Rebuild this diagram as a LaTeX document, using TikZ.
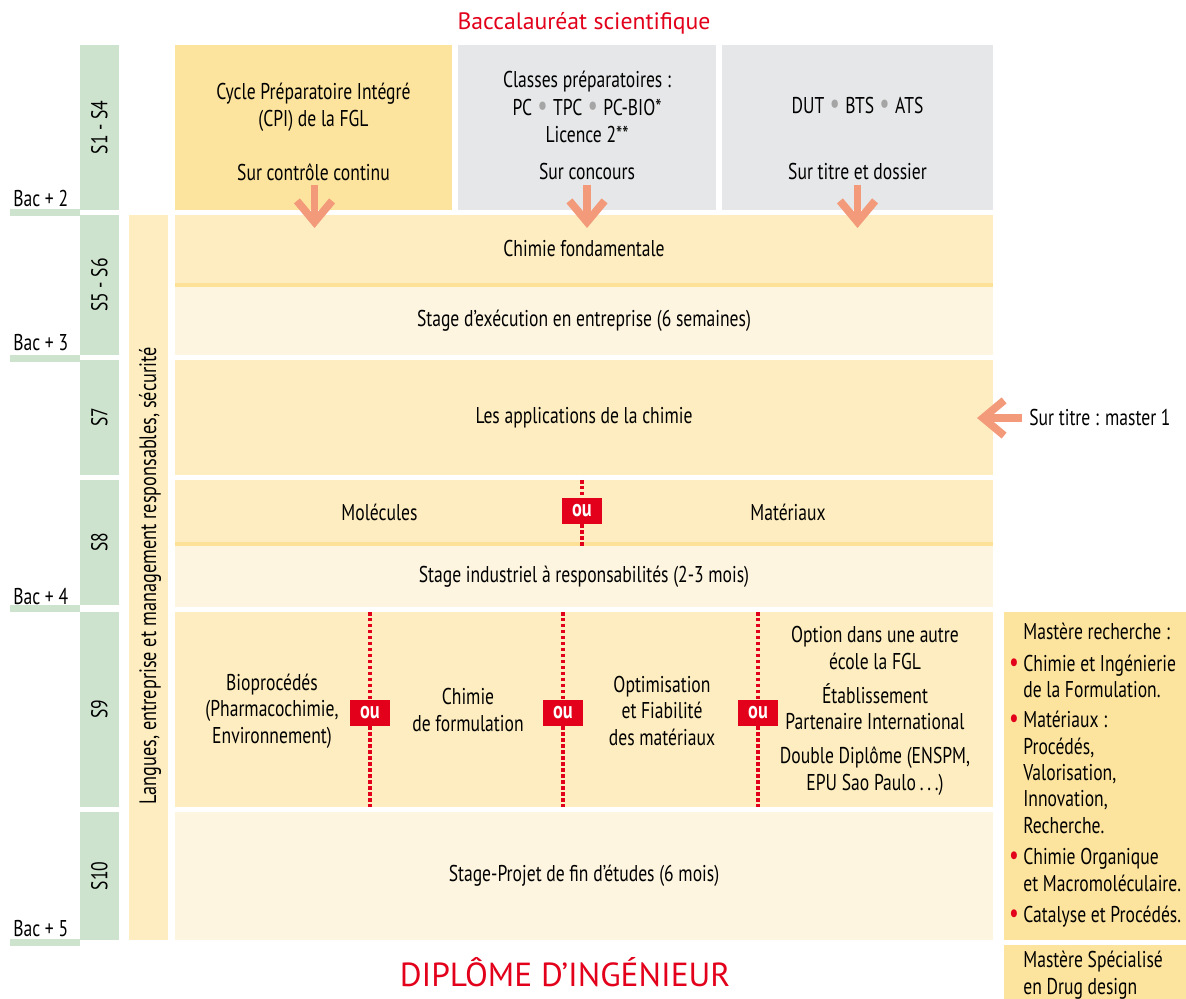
\documentclass[tikz,border=0pt]{standalone}
\usepackage{fontspec}
\setmainfont{PT Sans}[FakeStretch=0.77]
\newfontfamily\widefont{PT Sans}
\usetikzlibrary{arrows.meta}

\definecolor{rowdark}{RGB}{253,237,192}
\definecolor{rowlight}{RGB}{254,245,224}
\definecolor{cpiyellow}{RGB}{253,228,158}
\definecolor{sepline}{RGB}{253,225,150}
\definecolor{semgreen}{RGB}{205,227,205}
\definecolor{prepgray}{RGB}{230,231,232}
\definecolor{fglred}{RGB}{226,0,26}
\definecolor{salmon}{RGB}{242,154,122}
\definecolor{dotgray}{RGB}{165,165,165}

\newcommand{\gdot}{\hspace{3pt}{\color{dotgray}\fontsize{17}{15}\selectfont\textbullet}\hspace{3pt}}
\newcommand{\rdot}{\llap{{\color{fglred}\fontsize{16}{15}\selectfont\textbullet}\hspace{2.5pt}}}

\begin{document}
\begin{tikzpicture}[x=0.02cm, y=-0.02cm,
  every node/.style={inner sep=0pt, font=\fontsize{13}{15.2}\selectfont},
  box/.style={minimum width=16.36cm},
  sem/.style={fill=semgreen, rotate=90, minimum height=0.78cm},
  ou/.style={fill=fglred, text=white, font=\bfseries\fontsize{13.5}{14}\selectfont, minimum width=0.8cm, minimum height=0.52cm},
  orline/.style={fglred, line width=2pt, dash pattern=on 2pt off 1.4pt},
  entry/.style={salmon, line width=4.4pt, -{Straight Barb[length=12pt, width=20pt]}}]
\useasboundingbox (0,0) rectangle (1186,999);

% Titles:
\node[text=fglred, font=\widefont\fontsize{13.5}{16}\selectfont] (bac) at (584,23) {Baccalauréat scientifique};
\node[text=fglred, font=\widefont\fontsize{19}{20}\selectfont] (dipl) at (565,972) {DIPLÔME D’INGÉNIEUR};

% Entry boxes:
\node[fill=cpiyellow, minimum width=5.54cm, minimum height=3.30cm] (cpi) at (313.5,127.5) {};
\node[fill=prepgray, minimum width=5.16cm, minimum height=3.30cm] (prepa) at (587,127.5) {};
\node[fill=prepgray, minimum width=5.42cm, minimum height=3.30cm] (dut) at (857.5,127.5) {};
\node[align=center] (cpitxt) at (313.5,107) {Cycle Préparatoire Intégré\\(CPI) de la FGL};
\node[align=center] (prepatxt) at (587,107) {Classes préparatoires :\\[1pt] PC\gdot TPC\gdot PC-BIO*\\Licence 2**};
\node (duttxt) at (857.5,106) {DUT\gdot BTS\gdot ATS};
\node (sur1) at (313.5,172) {Sur contrôle continu};
\node (sur2) at (587,172) {Sur concours};
\node (sur3) at (857.5,172) {Sur titre et dossier};

% Semesters:
\node[sem, minimum width=3.30cm] (s1) at (99.5,127.5) {S1 - S4};
\node[sem, minimum width=2.80cm] (s5) at (99.5,285) {S5 - S6};
\node[sem, minimum width=2.30cm] (s7) at (99.5,417.5) {S7};
\node[sem, minimum width=2.50cm] (s8) at (99.5,542.5) {S8};
\node[sem, minimum width=3.90cm] (s9) at (99.5,709.5) {S9};
\node[sem, minimum width=2.56cm] (s10) at (99.5,876) {S10};
\fill[semgreen] (10,209) rectangle (80,216);
\fill[semgreen] (10,355) rectangle (80,362);
\fill[semgreen] (10,605) rectangle (80,612);
\fill[semgreen] (10,939) rectangle (80,946);
\node[anchor=west] (bac2) at (13,199) {Bac + 2};
\node[anchor=west] (bac3) at (13,343) {Bac + 3};
\node[anchor=west] (bac4) at (13,597) {Bac + 4};
\node[anchor=west] (bac5) at (13,929) {Bac + 5};

\node[fill=rowdark, rotate=90, minimum width=14.5cm, minimum height=0.78cm] (lang) at (148.5,577.5) {};
\node[rotate=90, font=\fontsize{13.5}{15}\selectfont] (langtxt) at (150,576) {Langues, entreprise et management responsables, sécurité};

% Cursus:
\node[box, fill=rowdark, minimum height=1.36cm] (fond) at (584,249) {Chimie fondamentale};
\fill[sepline] (175,283) rectangle (993,287);
\node[box, fill=rowlight, minimum height=1.36cm] (exec) at (584,321) {Stage d’exécution en entreprise (6 semaines)};
\node[box, fill=rowdark, minimum height=2.30cm] (appli) at (584,417.5) {Les applications de la chimie};
\node[box, fill=rowdark, minimum height=1.24cm] (option) at (584,511) {};
\fill[sepline] (175,542) rectangle (993,546);
\node[box, fill=rowlight, minimum height=1.22cm] (indus) at (584,576.5) {Stage industriel à responsabilités (2-3 mois)};
\node[box, fill=rowdark, minimum height=3.90cm] (spec) at (584,709.5) {};
\node[box, fill=rowlight, minimum height=2.56cm] (pfe) at (584,876) {Stage-Projet de fin d’études (6 mois)};

\node (mol) at (379.5,512) {Molécules};
\node (mat) at (788,512) {Matériaux};
\node[align=center] (bio) at (272,711) {Bioprocédés\\(Pharmacochimie,\\Environnement)};
\node[align=center] (form) at (468,710) {Chimie\\de formulation};
\node[align=center] (optim) at (662,711) {Optimisation\\et Fiabilité\\des matériaux};
\node[align=center] (autre) at (875,711) {Option dans une autre\\école la FGL\\[4pt]Établissement\\Partenaire International\\[4pt]Double Diplôme (ENSPM,\\EPU Sao Paulo\,.\,.\,.)};

% Choices:
\node[ou] (ou0) at (582,511) {ou};
\node[ou] (ou1) at (370,713) {ou};
\node[ou] (ou2) at (563,713) {ou};
\node[ou] (ou3) at (758,713) {ou};
\draw[orline] (582,480) -- (ou0.north);
\draw[orline] (ou0.south) -- (582,546);
\draw[orline] (370,612) -- (ou1.north);
\draw[orline] (ou1.south) -- (370,807);
\draw[orline] (563,612) -- (ou2.north);
\draw[orline] (ou2.south) -- (563,807);
\draw[orline] (758,612) -- (ou3.north);
\draw[orline] (ou3.south) -- (758,807);

% Entries:
\coordinate (e1) at (314.5,185);
\coordinate (e2) at (587,185);
\coordinate (e3) at (857.5,185);
\draw[entry] (e1) -- (314.5,228);
\draw[entry] (e2) -- (587,228);
\draw[entry] (e3) -- (857.5,228);
\node[anchor=west] (master) at (1029,418) {Sur titre : master 1};
\draw[entry] (master.west) ++(-7,0) -- (977,418);

% Masters:
\node[fill=cpiyellow, minimum width=3.66cm, minimum height=6.56cm] (mrech) at (1095,776) {};
\node[fill=cpiyellow, minimum width=3.66cm, minimum height=1.20cm] (mspec) at (1095,975) {};
\node[anchor=north west, align=left, font=\fontsize{13}{15}\selectfont] (mrechtxt) at (1023,623) {Mastère recherche :\\[3pt]
\rdot Chimie et Ingénierie\\de la Formulation.\\[2pt]
\rdot Matériaux :\\Procédés,\\Valorisation,\\Innovation,\\Recherche.\\[3pt]
\rdot Chimie Organique\\et Macromoléculaire.\\[3pt]
\rdot Catalyse et Procédés.};
\node[anchor=north west, align=left, font=\fontsize{13}{15}\selectfont] (mspectxt) at (1023,951) {Mastère Spécialisé\\en Drug design};
\end{tikzpicture}
\end{document}
